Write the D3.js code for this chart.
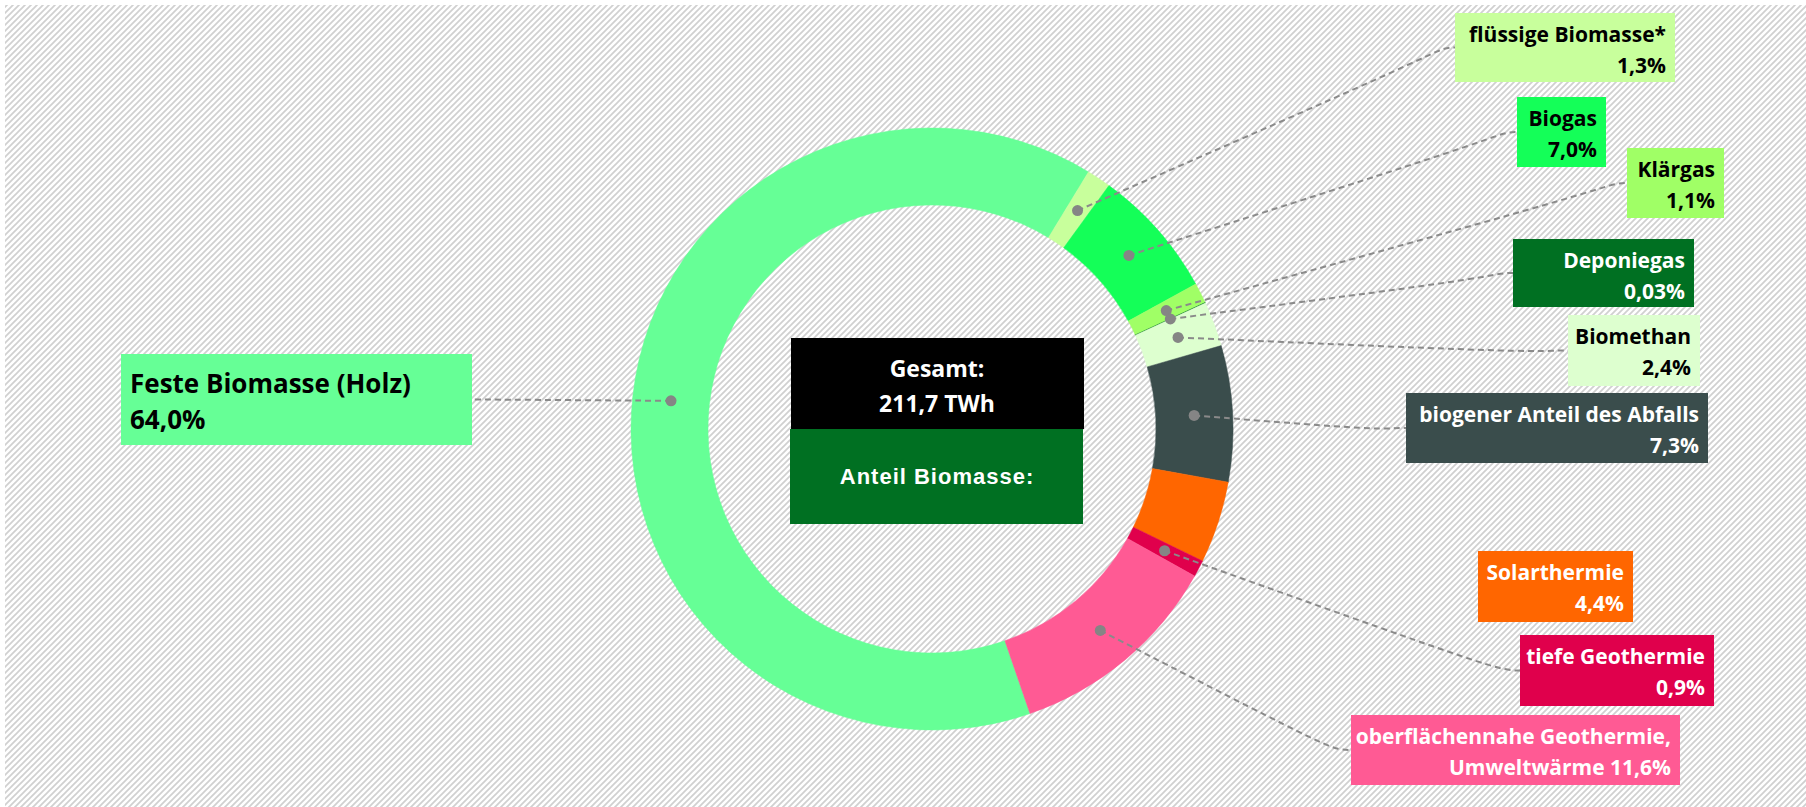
<!DOCTYPE html>
<html>
<head>
<meta charset="utf-8">
<script src="https://cdn.jsdelivr.net/npm/d3@7"></script>
<style>
  html, body { margin: 0; padding: 0; background: #fff; }
  svg { display: block; }
  .lbl { font-family: "Open Sans", "Noto Sans", sans-serif; font-weight: 700; }
</style>
</head>
<body>
<div id="chart"></div>
<script>
// Anteile der erneuerbaren Wärme (Gesamt 211,7 TWh)
var categories = ['Feste Biomasse (Holz)', 'flüssige Biomasse*', 'Biogas', 'Klärgas', 'Deponiegas',
                  'Biomethan', 'biogener Anteil des Abfalls', 'Solarthermie', 'tiefe Geothermie',
                  'oberflächennahe Geothermie, Umweltwärme'];
var shares = [64.0, 1.3, 7.0, 1.1, 0.03, 2.4, 7.3, 4.4, 0.9, 11.6];
var shareText = ['64,0%', '1,3%', '7,0%', '1,1%', '0,03%', '2,4%', '7,3%', '4,4%', '0,9%', '11,6%'];
// label lines as printed in the picture
var labelLines = [
  ['Feste Biomasse (Holz)', '64,0%'],
  ['flüssige Biomasse*', '1,3%'],
  ['Biogas', '7,0%'],
  ['Klärgas', '1,1%'],
  ['Deponiegas', '0,03%'],
  ['Biomethan', '2,4%'],
  ['biogener Anteil des Abfalls', '7,3%'],
  ['Solarthermie', '4,4%'],
  ['tiefe Geothermie', '0,9%'],
  ['oberflächennahe Geothermie,', 'Umweltwärme 11,6%']
];
var totalText = ['Gesamt:', '211,7 TWh'];
var biomassText = 'Anteil Biomasse:';

// styling / layout (not data)
var colors = ['#66ff96', '#c8ff9c', '#14ff58', '#a0ff66', '#007022',
              '#ddffcf', '#3a4d4c', '#ff6600', '#e0004c', '#ff5a94'];
var textColors = ['#000', '#000', '#000', '#000', '#fff', '#000', '#fff', '#fff', '#fff', '#fff'];
var boxes = [
  { x: 121, y: 354, w: 351, h: 91, side: 'left', size: 26, line: true },
  { x: 1455, y: 13, w: 220, h: 69, side: 'right', size: 21, line: true },
  { x: 1517, y: 97, w: 89, h: 70, side: 'right', size: 21, line: true },
  { x: 1627, y: 148, w: 97, h: 70, side: 'right', size: 21, line: true },
  { x: 1513, y: 239, w: 181, h: 68, side: 'right', size: 21, line: true },
  { x: 1568, y: 315, w: 132, h: 71, side: 'right', size: 21, line: true },
  { x: 1406, y: 393, w: 302, h: 70, side: 'right', size: 21, line: true },
  { x: 1478, y: 551, w: 155, h: 71, side: 'right', size: 21, line: false },
  { x: 1520, y: 635, w: 194, h: 71, side: 'right', size: 21, line: true },
  { x: 1351, y: 715, w: 329, h: 70, side: 'right', size: 21, line: true }
];

var width = 1806, height = 807;
var cx = 932, cy = 429, outerR = 301, innerR = 224;
var start = 161 * Math.PI / 180;

var svg = d3.select('#chart').append('svg')
    .attr('width', width)
    .attr('height', height);

// hatched background
var defs = svg.append('defs');
var pat = defs.append('pattern')
    .attr('id', 'hatch')
    .attr('patternUnits', 'userSpaceOnUse')
    .attr('width', 6).attr('height', 6);
pat.append('rect').attr('width', 6).attr('height', 6).attr('fill', '#fff');
pat.append('path')
    .attr('d', 'M-1,1 l2,-2 M0,6 l6,-6 M5,7 l2,-2')
    .attr('stroke', '#d0d0d0')
    .attr('stroke-width', 1.7);

svg.append('rect')
    .attr('x', 5).attr('y', 5)
    .attr('width', width - 5).attr('height', height - 5)
    .attr('fill', 'url(#hatch)');

var data = shares.map(function(v, i) {
  return { name: categories[i], value: v, label: shareText[i], lines: labelLines[i], idx: i };
});

var pie = d3.pie()
    .sort(null)
    .value(function(d) { return d.value; })
    .startAngle(start)
    .endAngle(start + 2 * Math.PI);

var arc = d3.arc().innerRadius(innerR).outerRadius(outerR);
var midArc = d3.arc().innerRadius((innerR + outerR) / 2).outerRadius((innerR + outerR) / 2);

var arcs = pie(data);

var g = svg.append('g').attr('transform', 'translate(' + cx + ',' + cy + ')');

g.selectAll('.slice')
  .data(arcs)
  .enter().append('path')
  .attr('class', 'slice')
  .attr('d', arc)
  .attr('fill', function(d) { return colors[d.data.idx]; })
  .attr('stroke', function(d) { return colors[d.data.idx]; })
  .attr('stroke-width', 0.5);

// leader lines
var line = d3.line().curve(d3.curveBasis);

var withLine = arcs.filter(function(d) { return boxes[d.data.idx].line; });

svg.append('g').selectAll('.leader')
  .data(withLine)
  .enter().append('path')
  .attr('class', 'leader')
  .attr('fill', 'none')
  .attr('stroke', '#8a8a8a')
  .attr('stroke-width', 2)
  .attr('stroke-dasharray', '6,4')
  .attr('d', function(d) {
    var b = boxes[d.data.idx];
    var c = midArc.centroid(d);
    var p0 = [cx + c[0], cy + c[1]];
    var ey = b.y + b.h / 2;
    if (b.side === 'left') {
      var e = [b.x + b.w, ey];
      return line([p0, [e[0] + 10, ey], e]);
    }
    var end = [b.x, ey];
    var k = [b.x - 12, ey];
    var m = [p0[0] + (k[0] - p0[0]) * 0.9, p0[1] + (k[1] - p0[1]) * 0.9 + 3];
    return line([p0, m, k, end]);
  });

// dots
svg.append('g').selectAll('.dot')
  .data(withLine)
  .enter().append('circle')
  .attr('class', 'dot')
  .attr('cx', function(d) { return cx + midArc.centroid(d)[0]; })
  .attr('cy', function(d) { return cy + midArc.centroid(d)[1]; })
  .attr('r', 5.5)
  .attr('fill', '#858585');

// label boxes
var lab = svg.append('g').selectAll('.label')
  .data(data)
  .enter().append('g')
  .attr('class', 'label');

lab.append('rect')
  .attr('x', function(d) { return boxes[d.idx].x; })
  .attr('y', function(d) { return boxes[d.idx].y; })
  .attr('width', function(d) { return boxes[d.idx].w; })
  .attr('height', function(d) { return boxes[d.idx].h; })
  .attr('fill', function(d) { return colors[d.idx]; });

lab.each(function(d) {
  var b = boxes[d.idx];
  var t = d3.select(this).append('text')
      .attr('class', 'lbl')
      .attr('fill', textColors[d.idx])
      .style('font-size', b.size + 'px')
      .attr('text-anchor', b.side === 'left' ? 'start' : 'end');
  var tx = b.side === 'left' ? b.x + 9 : b.x + b.w - 9;
  var y1 = b.side === 'left' ? b.y + 39 : b.y + 29;
  var gap = b.side === 'left' ? 36 : 31;
  d.lines.forEach(function(s, j) {
    t.append('tspan').attr('x', tx).attr('y', y1 + j * gap).text(s);
  });
});

// centre boxes
var center = svg.append('g');
center.append('rect')
  .attr('x', 791).attr('y', 338).attr('width', 293).attr('height', 91)
  .attr('fill', '#000');
center.append('rect')
  .attr('x', 790).attr('y', 429).attr('width', 293).attr('height', 95)
  .attr('fill', '#007022');

center.append('text')
  .attr('class', 'lbl')
  .attr('text-anchor', 'middle')
  .attr('fill', '#fff')
  .style('font-size', '23px')
  .selectAll('tspan')
  .data(totalText)
  .enter().append('tspan')
  .attr('x', 937)
  .attr('y', function(d, i) { return 377 + i * 35; })
  .text(function(d) { return d; });

center.append('text')
  .attr('x', 937).attr('y', 484)
  .attr('text-anchor', 'middle')
  .attr('fill', '#fff')
  .style('font-family', '"Liberation Sans", Arial, sans-serif')
  .style('font-weight', 700)
  .style('font-size', '22px')
  .style('letter-spacing', '1px')
  .text(biomassText);
</script>
</body>
</html>
